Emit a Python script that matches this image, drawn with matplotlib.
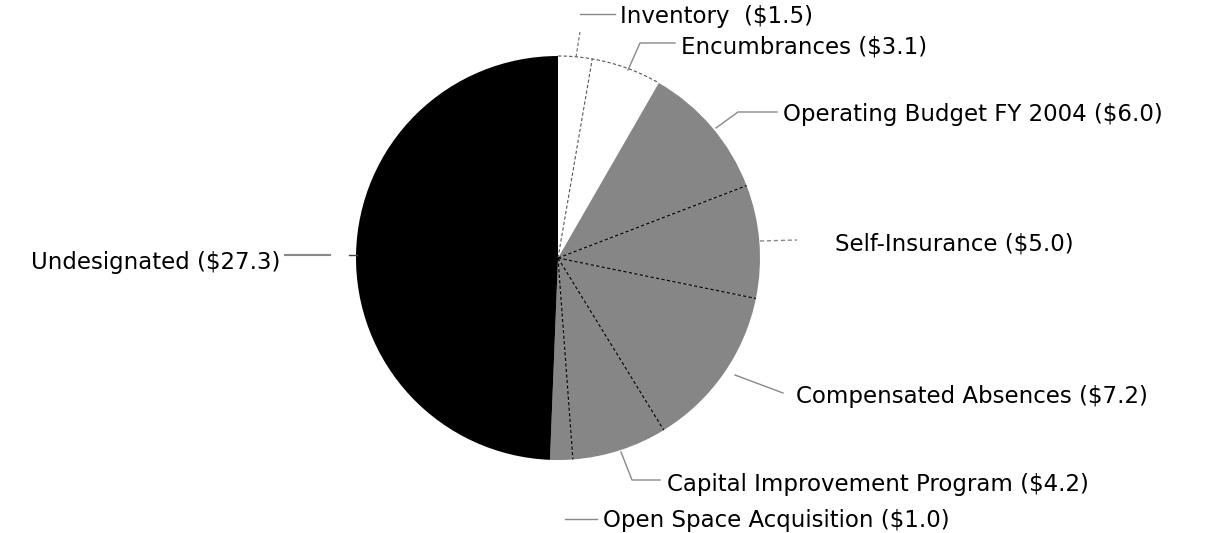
import matplotlib
matplotlib.use("Agg")
import matplotlib.pyplot as plt
import numpy as np

categories = ["Inventory", "Encumbrances", "Operating Budget FY 2004", "Self-Insurance",
              "Compensated Absences", "Capital Improvement Program",
              "Open Space Acquisition", "Undesignated"]
values = [1.5, 3.1, 6.0, 5.0, 7.2, 4.2, 1.0, 27.3]
labels = ["Inventory  ($1.5)", "Encumbrances ($3.1)", "Operating Budget FY 2004 ($6.0)",
          "Self-Insurance ($5.0)", "Compensated Absences ($7.2)",
          "Capital Improvement Program ($4.2)", "Open Space Acquisition ($1.0)",
          "Undesignated ($27.3)"]

W, H = 1209, 533
fig = plt.figure(figsize=(W / 100, H / 100), dpi=100)
ax = fig.add_axes([0, 0, 1, 1])

def P(y):
    return H - y

cx, cy, R = 558, P(258), 202
gray = "#868686"
colors = ["white", "white", gray, gray, gray, gray, gray, "black"]

wedges, _ = ax.pie(values, colors=colors, startangle=90, counterclock=False,
                   center=(cx, cy), radius=R, frame=True,
                   wedgeprops=dict(linewidth=0))
ax.set_xlim(0, W)
ax.set_ylim(0, H)
ax.set_aspect("equal")
ax.axis("off")

total = sum(values)
angles = [90 - 360 * s / total for s in np.concatenate([[0], np.cumsum(values)])]
# outline of white slices: dashed gray
th = np.linspace(np.radians(angles[0]), np.radians(angles[2]), 100)
ax.plot(cx + R * np.cos(th), cy + R * np.sin(th), color="#555555", lw=0.8, ls=(0, (3, 2)))
t = np.radians(angles[1])
ax.plot([cx, cx + R * np.cos(t)], [cy, cy + R * np.sin(t)], color="#555555", lw=0.8, ls=(0, (3, 2)))
# dashed boundaries inside gray area
for k in [3, 4, 5, 6]:
    t = np.radians(angles[k])
    ax.plot([cx, cx + R * np.cos(t)], [cy, cy + R * np.sin(t)], color="black", lw=0.8, ls=(0, (3, 2)))

lc = "#888888"
def line(pts, **kw):
    ax.plot([p[0] for p in pts], [P(p[1]) for p in pts], **kw)

line([(576, 57), (580, 32)], color="#666666", lw=0.8, ls=(0, (3, 2)))
line([(580, 14), (615, 14)], color=lc, lw=1)
line([(628, 70), (640, 43), (675, 43)], color=lc, lw=1)
line([(716, 128), (738, 112), (777, 112)], color=lc, lw=1)
line([(760, 241), (797, 240)], color=lc, lw=1, ls=(0, (3, 2)))
line([(735, 375), (783, 393)], color=lc, lw=1)
line([(621, 452), (632, 480), (660, 480)], color=lc, lw=1)
line([(565, 519), (597, 519)], color=lc, lw=1)
line([(285, 255), (330, 255)], color=lc, lw=1.5)
line([(349, 255), (357, 255)], color="#444444", lw=1)

fs = 16.5
font = "DejaVu Sans"
pos = [(620, 17, "left"), (681, 47, "left"), (783, 115, "left"), (835, 244, "left"),
       (796, 396, "left"), (667, 484, "left"), (603, 521, "left"), (280, 262, "right")]
for lab, (x, y, ha) in zip(labels, pos):
    ax.text(x, P(y), lab, ha=ha, va="center", fontsize=fs, family=font, color="black")

fig.savefig("out.png", dpi=100)
